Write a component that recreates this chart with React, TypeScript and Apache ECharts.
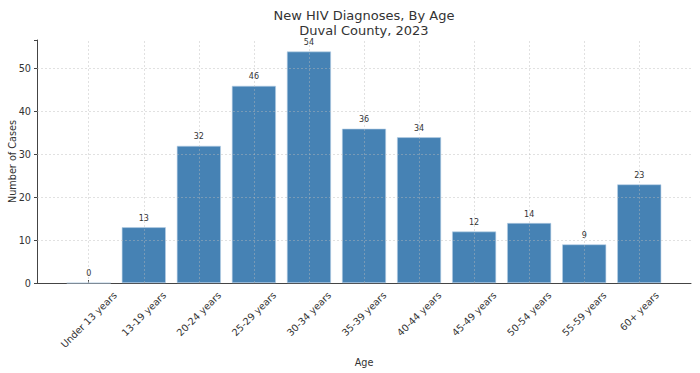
import React, { useEffect, useRef } from "react";
import * as echarts from "echarts";

const categories = [
  "Under 13 years",
  "13-19 years",
  "20-24 years",
  "25-29 years",
  "30-34 years",
  "35-39 years",
  "40-44 years",
  "45-49 years",
  "50-54 years",
  "55-59 years",
  "60+ years",
];
const cases = [0, 13, 32, 46, 54, 36, 34, 12, 14, 9, 23];
const yTicks = [0, 10, 20, 30, 40, 50];
const titleLines = ["New HIV Diagnoses, By Age", "Duval County, 2023"];

const FONT = "DejaVu Sans";
const TICK_FS = 9.7;
const GRID_COLOR = "rgba(185,185,185,0.55)";

function measure(text: string, fs: number): number {
  const c = document.createElement("canvas").getContext("2d");
  if (!c) return text.length * fs * 0.6;
  c.font = `${fs}px "${FONT}"`;
  return c.measureText(text).width;
}

export default function App() {
  const ref = useRef<HTMLDivElement>(null);
  useEffect(() => {
    if (!ref.current) return;
    const chart = echarts.init(ref.current, undefined, { renderer: "svg" });
    const idx = categories.map((_, i) => i);
    const gridLineStyle = { color: GRID_COLOR, type: [2, 2], width: 0.8 };
    const widths = categories.map((c) => measure(c, TICK_FS));
    chart.setOption({
      animation: false,
      textStyle: { fontFamily: FONT },
      title: {
        text: titleLines.join("\n"),
        left: 364,
        top: 8,
        padding: 0,
        textAlign: "center",
        textStyle: { fontFamily: FONT, fontSize: 13, fontWeight: "normal", color: "#333", lineHeight: 15 },
      },
      grid: { left: 37, right: 9, top: 40, bottom: 90, outerBoundsMode: "none", containLabel: false },
      xAxis: {
        type: "value",
        min: -0.94,
        max: 10.94,
        name: "Age",
        nameLocation: "middle",
        nameGap: 74,
        nameMoveOverlap: false,
        nameTextStyle: { fontFamily: FONT, fontSize: 9.7, color: "#333" },
        axisLine: { show: true, onZero: false, lineStyle: { color: "#444", width: 1 } },
        axisTick: { show: true, inside: true, length: 3, customValues: idx, lineStyle: { color: "#444" } },
        axisLabel: { show: false },
        splitLine: { show: false },
      },
      yAxis: {
        type: "value",
        min: 0,
        max: 56.7,
        interval: 10,
        name: "Number of Cases",
        nameLocation: "middle",
        nameGap: 20,
        nameMoveOverlap: false,
        nameTextStyle: { fontFamily: FONT, fontSize: 9.7, color: "#333" },
        axisLine: { show: true, onZero: false, lineStyle: { color: "#444", width: 1 } },
        axisTick: { show: true, length: 3, lineStyle: { color: "#444" } },
        axisLabel: {
          fontFamily: FONT,
          fontSize: TICK_FS,
          color: "#333",
          margin: 6,
          formatter: (v: number) => (yTicks.includes(v) ? String(v) : ""),
        },
        splitLine: { show: false },
      },
      series: [
        {
          type: "bar",
          data: cases.map((v, i) => [i, v]),
          barWidth: 44,
          itemStyle: { color: "#4682B4", borderColor: "#b9d0e6", borderWidth: 0.6 },
          label: {
            show: true,
            position: "top",
            distance: 5,
            fontFamily: FONT,
            fontSize: 8,
            color: "#333",
            formatter: (p: any) => String(p.value[1]),
          },
          markLine: {
            silent: true,
            symbol: "none",
            label: { show: false },
            lineStyle: gridLineStyle,
            emphasis: { disabled: true },
            data: [
              ...idx.map((i) => ({ xAxis: i })),
              ...yTicks.filter((t) => t > 0).map((t) => ({ yAxis: t })),
            ],
          },
        },
        {
          type: "custom",
          silent: true,
          clip: false,
          data: idx.map((i) => [i]),
          renderItem: (params: any, api: any) => {
            const i = api.value(0);
            const pt = api.coord([i, 0]);
            const w = (widths[i] + TICK_FS) / Math.SQRT2;
            return {
              type: "text",
              x: pt[0],
              y: pt[1] + 7 + w / 2,
              rotation: Math.PI / 4,
              style: {
                text: categories[i],
                fontFamily: FONT,
                fontSize: TICK_FS,
                fill: "#333",
                textAlign: "center",
                textVerticalAlign: "middle",
              },
            };
          },
        },
      ],
    });
    return () => chart.dispose();
  }, []);
  return (
    <div
      ref={ref}
      style={{ position: "absolute", left: 0, top: 0, width: 700, height: 373, background: "#fff" }}
    />
  );
}
